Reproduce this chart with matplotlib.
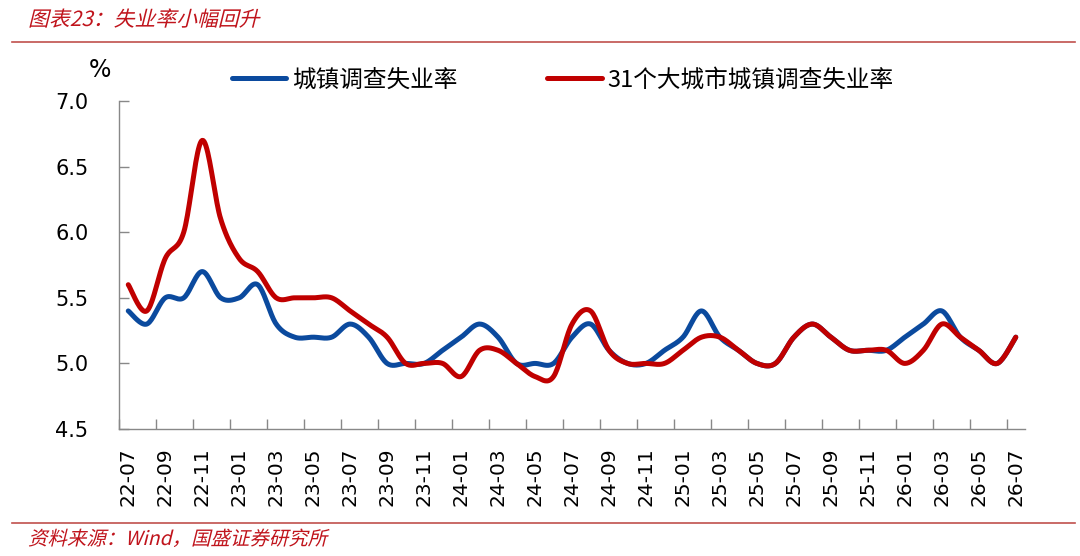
import numpy as np
import matplotlib
matplotlib.use("Agg")
import matplotlib.pyplot as plt
from matplotlib.font_manager import FontProperties
from matplotlib.patches import PathPatch
from matplotlib.textpath import TextPath
from matplotlib.transforms import Affine2D

plt.rcParams["font.family"] = ["Noto Sans CJK SC", "DejaVu Sans"]

# ---- data (monthly, 22-07 .. 26-07) ----
months = ["22-07", "22-08", "22-09", "22-10", "22-11", "22-12",
          "23-01", "23-02", "23-03", "23-04", "23-05", "23-06",
          "23-07", "23-08", "23-09", "23-10", "23-11", "23-12",
          "24-01", "24-02", "24-03", "24-04", "24-05", "24-06",
          "24-07", "24-08", "24-09", "24-10", "24-11", "24-12",
          "25-01", "25-02", "25-03", "25-04", "25-05", "25-06",
          "25-07", "25-08", "25-09", "25-10", "25-11", "25-12",
          "26-01", "26-02", "26-03", "26-04", "26-05", "26-06",
          "26-07"]

urban_rate = [5.4, 5.3, 5.5, 5.5, 5.7, 5.5,
              5.5, 5.6, 5.3, 5.2, 5.2, 5.2,
              5.3, 5.2, 5.0, 5.0, 5.0, 5.1,
              5.2, 5.3, 5.2, 5.0, 5.0, 5.0,
              5.2, 5.3, 5.1, 5.0, 5.0, 5.1,
              5.2, 5.4, 5.2, 5.1, 5.0, 5.0,
              5.2, 5.3, 5.2, 5.1, 5.1, 5.1,
              5.2, 5.3, 5.4, 5.2, 5.1, 5.0,
              5.2]

city31_rate = [5.6, 5.4, 5.8, 6.0, 6.7, 6.1,
               5.8, 5.7, 5.5, 5.5, 5.5, 5.5,
               5.4, 5.3, 5.2, 5.0, 5.0, 5.0,
               4.9, 5.1, 5.1, 5.0, 4.9, 4.9,
               5.3, 5.4, 5.1, 5.0, 5.0, 5.0,
               5.1, 5.2, 5.2, 5.1, 5.0, 5.0,
               5.2, 5.3, 5.2, 5.1, 5.1, 5.1,
               5.0, 5.1, 5.3, 5.2, 5.1, 5.0,
               5.2]

BLUE = "#0b4a9e"
RED = "#c00000"
DARK_RED = "#c0141c"


def smooth(xs, ys, steps=20):
    """Excel-style smoothed line: cubic Bezier with Catmull-Rom handles."""
    xs = np.asarray(xs, float)
    ys = np.asarray(ys, float)
    pts = np.column_stack([xs, ys])
    ext = np.vstack([pts[0], pts, pts[-1]])
    out = []
    t = np.linspace(0, 1, steps, endpoint=False)[:, None]
    for i in range(len(pts) - 1):
        p0, p1, p2, p3 = ext[i], ext[i + 1], ext[i + 2], ext[i + 3]
        c1 = p1 + (p2 - p0) / 6.0
        c2 = p2 - (p3 - p1) / 6.0
        seg = ((1 - t) ** 3) * p1 + 3 * ((1 - t) ** 2) * t * c1 \
            + 3 * (1 - t) * t ** 2 * c2 + t ** 3 * p2
        out.append(seg)
    out.append(pts[-1][None, :])
    out = np.vstack(out)
    return out[:, 0], out[:, 1]


def slanted_text(fig, x_px, y_px, text, size, color, skew=14):
    """Draw fake-italic text (CJK fonts have no italic face)."""
    fp = FontProperties(family=["Noto Sans CJK SC", "DejaVu Sans"])
    path = TextPath((0, 0), text, size=size, prop=fp)
    h_in = fig.get_figheight()
    tr = (Affine2D().skew_deg(skew, 0).scale(1 / 72.0)
          .translate(x_px / 100.0, h_in - y_px / 100.0)
          + fig.dpi_scale_trans)
    patch = PathPatch(path, transform=tr, facecolor=color,
                      edgecolor="none", lw=0)
    fig.add_artist(patch)


x = np.arange(len(months))

fig = plt.figure(figsize=(10.8, 5.56), dpi=100)
ax = fig.add_axes([0.1102, 0.2284, 0.8389, 0.5899])

bx, by = smooth(x, urban_rate)
rx, ry = smooth(x, city31_rate)
ax.plot(bx, by, color=BLUE, linewidth=3.6, solid_capstyle="round",
        label="城镇调查失业率")
ax.plot(rx, ry, color=RED, linewidth=3.6, solid_capstyle="round",
        label="31个大城市城镇调查失业率")

ax.set_xlim(-0.5, len(months) - 0.5)
ax.set_ylim(4.5, 7.0)
ax.set_yticks(np.arange(4.5, 7.01, 0.5))
ax.set_yticklabels([f"{v:.1f}" for v in np.arange(4.5, 7.01, 0.5)],
                   family="DejaVu Sans", fontsize=15)

# tick marks between categories, labels on every other month
ax.set_xticks(np.arange(-0.5, len(months) - 1, 2))
ax.set_xticklabels([])
ax.set_xticks(x[::2], minor=True)
ax.set_xticklabels(months[::2], minor=True, rotation=90,
                   family="DejaVu Sans", fontsize=14.5)
ax.tick_params(axis="x", which="major", direction="in", length=7,
               width=1, color="#888888")
ax.tick_params(axis="x", which="minor", length=0, pad=13)
ax.tick_params(axis="y", direction="in", length=7, width=1,
               color="#888888", pad=22)

for side in ("top", "right"):
    ax.spines[side].set_visible(False)
for side in ("left", "bottom"):
    ax.spines[side].set_color("#888888")
    ax.spines[side].set_linewidth(1)

leg = ax.legend(ncol=2, loc="center", bbox_to_anchor=(0.49, 1.064),
                frameon=False, fontsize=17, handlelength=2.3,
                handletextpad=0.25, columnspacing=3.8)

fig.text(100 / 1080, 1 - 70 / 556, "%", fontsize=17, ha="center",
         va="center", family="DejaVu Sans")

# header / footer
slanted_text(fig, 28, 26, "图表23：失业率小幅回升", 15, DARK_RED)
fig.add_artist(plt.Line2D([12 / 1080, 1075 / 1080], [1 - 41.5 / 556] * 2,
                          color="#c0504d", linewidth=1.2))
fig.add_artist(plt.Line2D([12 / 1080, 1075 / 1080], [1 - 522.5 / 556] * 2,
                          color="#c0504d", linewidth=1.2))
slanted_text(fig, 28, 545, "资料来源：Wind，国盛证券研究所", 14, DARK_RED)

fig.savefig("out.png", dpi=100)
